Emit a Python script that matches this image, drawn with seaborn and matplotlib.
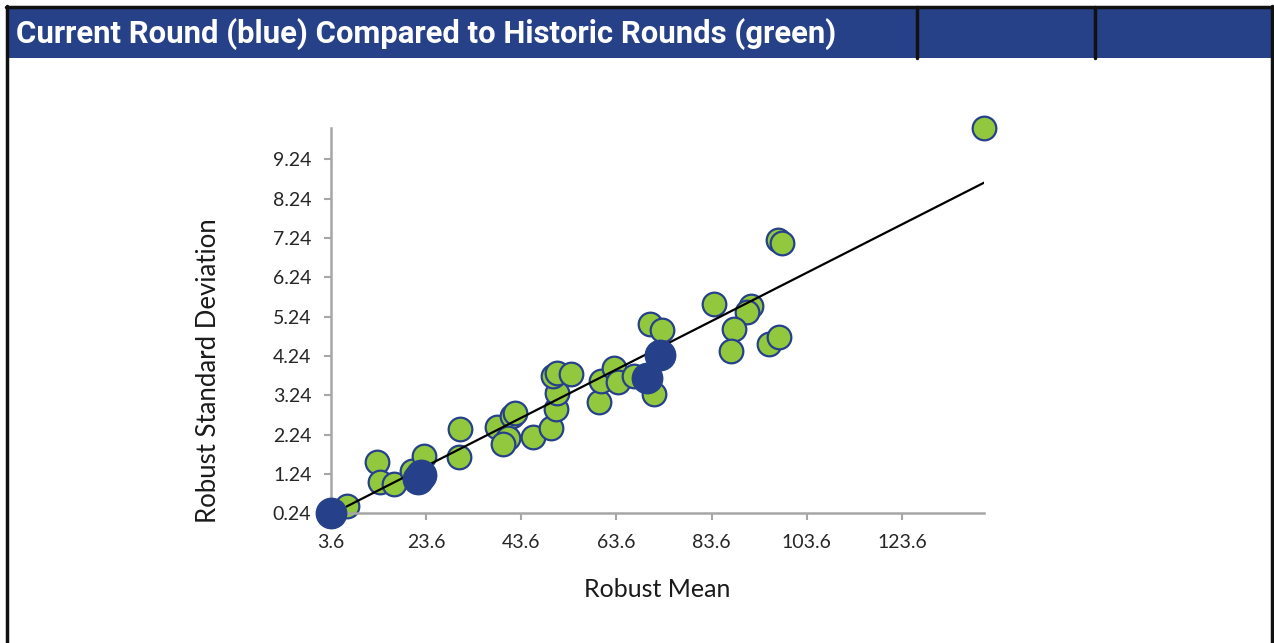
import numpy as np
import pandas as pd
import matplotlib.pyplot as plt
import seaborn as sns
from matplotlib.patches import Rectangle
from matplotlib.lines import Line2D

# ---------------------------
# Data
# ---------------------------
historic_mean = [6.9, 13.4, 13.9, 16.9, 20.6, 23.2, 30.6, 30.7,
                 38.6, 41.6, 42.2, 40.9, 39.7, 46.1, 49.9, 50.9, 51.1, 50.2, 51.1, 54.0,
                 60.0, 60.3, 63.0, 64.0, 67.3, 71.5, 70.6, 73.2,
                 84.1, 91.9, 91.1, 88.3, 87.6, 95.6, 97.8, 97.6, 98.3, 140.9]
historic_sd = [0.43, 1.54, 1.04, 0.98, 1.32, 1.71, 1.66, 2.38,
               2.43, 2.72, 2.78, 2.15, 2.00, 2.19, 2.42, 2.89, 3.31, 3.73, 3.82, 3.78,
               3.08, 3.61, 3.93, 3.59, 3.72, 3.27, 5.06, 4.89,
               5.56, 5.50, 5.37, 4.93, 4.38, 4.55, 4.73, 7.18, 7.11, 10.04]

current_mean = [3.6, 22.0, 22.6, 70.0, 72.8]
current_sd = [0.24, 1.10, 1.22, 3.69, 4.27]

x_ticks = [3.6, 23.6, 43.6, 63.6, 83.6, 103.6, 123.6]
y_ticks = [0.24, 1.24, 2.24, 3.24, 4.24, 5.24, 6.24, 7.24, 8.24, 9.24]

title = "Current Round (blue) Compared to Historic Rounds (green)"

df_hist = pd.DataFrame({'mean': historic_mean, 'sd': historic_sd})
df_cur = pd.DataFrame({'mean': current_mean, 'sd': current_sd})

# linear trendline through historic rounds
slope, intercept = np.polyfit(df_hist['mean'], df_hist['sd'], 1)
trend = pd.DataFrame({'mean': [df_hist['mean'].min(), df_hist['mean'].max()]})
trend['sd'] = slope * trend['mean'] + intercept

# ---------------------------
# Style
# ---------------------------
sns.set_style("white")
plt.rcParams['font.family'] = ['Lato', 'DejaVu Sans']

navy = '#26418a'
green = '#92c83e'
axis_grey = '#a6a6a6'

fig = plt.figure(figsize=(12.74, 6.43), dpi=100)

# title bar + frame
fig.patches.append(Rectangle((8/1274, 1 - 58/643), 1 - 11/1274, 50/643,
                             transform=fig.transFigure, facecolor='#264187',
                             edgecolor='none', zorder=0))
for xs, ys in [([7/1274, 7/1274], [0, 1 - 6/643]),
               ([1 - 2/1274, 1 - 2/1274], [0, 1 - 6/643]),
               ([6/1274, 1 - 1/1274], [1 - 7/643, 1 - 7/643]),
               ([917/1274, 917/1274], [1 - 58/643, 1 - 7/643]),
               ([1095/1274, 1095/1274], [1 - 58/643, 1 - 7/643])]:
    fig.lines.append(Line2D(xs, ys, transform=fig.transFigure, color='#111111', lw=2.5))

fig.text(16/1274, 1 - 34/643, title, color='white', fontsize=22.4, fontweight='bold',
         family=['Roboto', 'DejaVu Sans'], va='center', ha='left')

ax = fig.add_axes([330.8/1274, 1 - 513.3/643, (984.3 - 330.8)/1274, (513.3 - 128)/643])

sns.lineplot(data=trend, x='mean', y='sd', ax=ax, color='black', lw=1.6, zorder=3)
sns.scatterplot(data=df_hist, x='mean', y='sd', ax=ax, color=green, edgecolor=navy,
                linewidth=1.6, s=290, zorder=2, clip_on=False)
sns.scatterplot(data=df_cur, x='mean', y='sd', ax=ax, color=navy, edgecolor=navy,
                linewidth=1, s=480, zorder=4, clip_on=False)

ax.set_xlim(3.6, 140.9)
ax.set_ylim(0.24, 10.04)
ax.set_xticks(x_ticks)
ax.set_yticks(y_ticks)
ax.set_xticklabels([f"{v:.1f}" for v in x_ticks])
ax.set_yticklabels([f"{v:.2f}" for v in y_ticks])

for side in ['top', 'right']:
    ax.spines[side].set_visible(False)
for side in ['left', 'bottom']:
    ax.spines[side].set_color(axis_grey)
    ax.spines[side].set_linewidth(1.8)
ax.tick_params(axis='both', colors=axis_grey, length=5, width=1.5, direction='out',
               labelcolor='#262626', labelsize=14, left=True, bottom=True)
ax.tick_params(axis='x', pad=10)
ax.tick_params(axis='y', pad=9)

ax.set_xlabel("Robust Mean", fontsize=18, color='#1a1a1a', labelpad=19)
ax.set_ylabel("Robust Standard Deviation", fontsize=18.5, color='#1a1a1a', labelpad=37)
ax.yaxis.label.set_y(0.37)

plt.savefig("out.png", dpi=100)
plt.close()
